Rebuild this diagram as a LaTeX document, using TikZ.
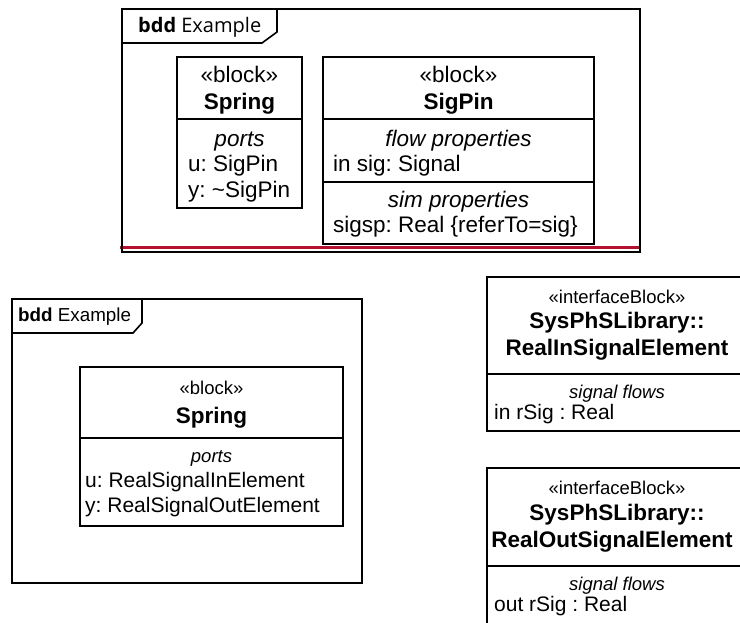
\documentclass[tikz,border=0pt]{standalone}
\usepackage{fontspec}
\setmainfont{Liberation Sans}
\newfontfamily\tabfont{Open Sans}
\definecolor{redline}{RGB}{180,16,48}
\frenchspacing
\begin{document}
\begin{tikzpicture}[x=1pt,y=-1pt,
  frame/.style={draw=black, line width=1.6pt},
  box/.style={draw=black, line width=1.3pt, anchor=north west, inner sep=0pt, outer sep=0pt, fill=white},
  div/.style={draw=black, line width=1.3pt},
  tc/.style={inner sep=0pt, anchor=base},
  tl/.style={inner sep=0pt, anchor=base west},
  big/.style={font=\fontsize{22.5}{26}\selectfont},
  bigb/.style={font=\fontsize{22.5}{26}\selectfont\bfseries},
  bigi/.style={font=\fontsize{22.5}{26}\selectfont\itshape},
  med/.style={font=\fontsize{21}{24}\selectfont},
  sm/.style={font=\fontsize{18.5}{22}\selectfont},
  smi/.style={font=\fontsize{18.5}{22}\selectfont\itshape}
]
\useasboundingbox (0,0) rectangle (740,623);
\clip (0,0) rectangle (740,623);

% ---------- top frame ----------
\node[box, draw=none, fill=none, minimum width=518pt, minimum height=243pt] (topframe) at (122,9) {};
\draw[redline, line width=2.6pt] (120,247.5) -- (640,247.5);
\draw[frame] (122,9) rectangle (640,252);
\draw[frame] (122,43) -- (262,43) -- (277,32) -- (277,9);
\node[tl, font=\fontsize{20}{24}\selectfont\tabfont] (toptab) at (138,33) {\textbf{bdd} Example};

% Spring (top)
\node[box, minimum width=125pt, minimum height=151pt] (spring1) at (177,57) {};
\draw[div] (177,119) -- (302,119);
\node[tc, big] (s1st) at (239.5,83) {«block»};
\node[tc, bigb] (s1nm) at (239.5,110) {Spring};
\node[tc, bigi] (s1pc) at (239.5,147) {ports};
\node[tl, big] (s1u) at (188,172) {u: SigPin};
\node[tl, big] (s1y) at (188,198) {y: \textasciitilde SigPin};

% SigPin
\node[box, minimum width=271pt, minimum height=187pt] (sigpin) at (323,57) {};
\draw[div] (323,119) -- (594,119);
\draw[div] (323,182) -- (594,182);
\node[tc, big] (spst) at (458.5,83) {«block»};
\node[tc, bigb] (spnm) at (458.5,110) {SigPin};
\node[tc, bigi] (spfp) at (458.5,147) {flow properties};
\node[tl, big] (spin) at (333,172) {in sig: Signal};
\node[tc, bigi] (spsp) at (458.5,208) {sim properties};
\node[tl, big] (spsg) at (333,233) {sigsp: Real \{referTo=sig\}};

% ---------- lower frame ----------
\draw[frame] (12,299) rectangle (362,583);
\draw[frame] (12,333) -- (133,333) -- (142,323) -- (142,299);
\node[tl, font=\fontsize{18.8}{22}\selectfont] (lowtab) at (18,322) {\textbf{bdd} Example};

\node[box, minimum width=263pt, minimum height=159pt] (spring2) at (80,367) {};
\draw[div] (80,438) -- (343,438);
\node[tc, sm] (s2st) at (211.5,394) {«block»};
\node[tc, bigb] (s2nm) at (211.5,423) {Spring};
\node[tc, smi] (s2pc) at (211.5,462) {ports};
\node[tl, med] (s2u) at (85,487) {u: RealSignalInElement};
\node[tl, med] (s2y) at (85,512) {y: RealSignalOutElement};

% ---------- interface blocks ----------
\node[box, minimum width=262pt, minimum height=154pt] (ib1) at (487,277) {};
\draw[div] (487,374) -- (749,374);
\node[tc, sm] (ib1st) at (617,303) {«interfaceBlock»};
\node[tc, bigb] (ib1n1) at (617,328) {SysPhSLibrary::};
\node[tc, bigb] (ib1n2) at (617,355) {RealInSignalElement};
\node[tc, smi] (ib1sf) at (617,398) {signal flows};
\node[tl, med] (ib1r) at (494,419) {in rSig : Real};

\node[box, minimum width=262pt, minimum height=200pt] (ib2) at (487,468) {};
\draw[div] (487,566) -- (749,566);
\node[tc, sm] (ib2st) at (617,494) {«interfaceBlock»};
\node[tc, bigb] (ib2n1) at (617,520) {SysPhSLibrary::};
\node[tc, bigb] (ib2n2) at (612,547) {RealOutSignalElement};
\node[tc, smi] (ib2sf) at (617,590) {signal flows};
\node[tl, med] (ib2r) at (494,611) {out rSig : Real};
\end{tikzpicture}
\end{document}
